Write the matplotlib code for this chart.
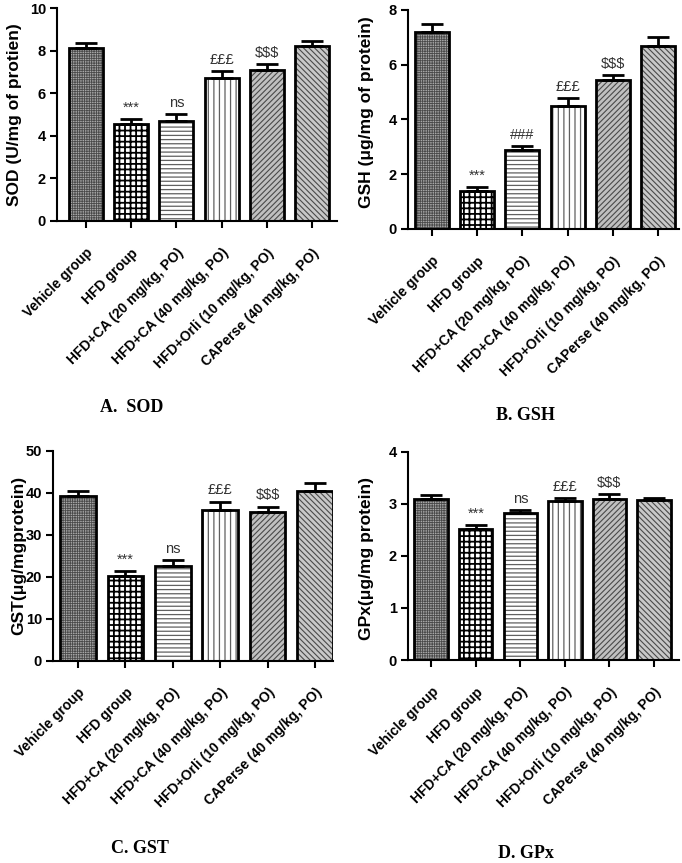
import matplotlib
matplotlib.use('Agg')
import matplotlib.pyplot as plt
import numpy as np

plt.rcParams['font.family'] = ['Liberation Sans', 'DejaVu Sans']

groups = ["Vehicle group", "HFD group", "HFD+CA (20 mg/kg, PO)",
          "HFD+CA (40 mg/kg, PO)", "HFD+Orli (10 mg/kg, PO)", "CAPerse (40 mg/kg, PO)"]

sod_mean = [8.14, 4.55, 4.71, 6.73, 7.10, 8.25]
sod_sem = [0.24, 0.24, 0.31, 0.30, 0.28, 0.21]
gsh_mean = [7.18, 1.39, 2.88, 4.49, 5.46, 6.69]
gsh_sem = [0.32, 0.15, 0.16, 0.28, 0.17, 0.33]
gst_mean = [39.2, 20.2, 22.6, 35.8, 35.3, 40.4]
gst_sem = [1.3, 1.2, 1.3, 2.1, 1.4, 1.8]
gpx_mean = [3.10, 2.52, 2.83, 3.05, 3.09, 3.07]
gpx_sem = [0.07, 0.08, 0.05, 0.06, 0.10, 0.05]

sod_marks = ["", "***", "ns", "£££", "$$$", ""]
gsh_marks = ["", "***", "###", "£££", "$$$", ""]
gst_marks = ["", "***", "ns", "£££", "$$$", ""]
gpx_marks = ["", "***", "ns", "£££", "$$$", ""]

styles = [
    dict(face='#a8a8a8', hatch='+++++++', hcolor='#4a4a4a', hlw=0.6),
    dict(face='white', hatch='+++', hcolor='black', hlw=1.3),
    dict(face='white', hatch='----', hcolor='#606060', hlw=0.9),
    dict(face='white', hatch='|||', hcolor='#606060', hlw=0.9),
    dict(face='#c0c0c0', hatch='//////', hcolor='#4a4a4a', hlw=0.8),
    dict(face='#c8c8c8', hatch='\\\\\\\\\\\\', hcolor='#4a4a4a', hlw=0.8),
]

W, H = 682, 863
fig = plt.figure(figsize=(W / 100, H / 100), dpi=100)


def px_rect(left, right, bottom, top):
    return [left / W, 1 - bottom / H, (right - left) / W, (bottom - top) / H]


def panel(rect, xlim, means, sems, marks, ylim, yticks):
    ax = fig.add_axes(rect)
    x = np.arange(len(groups))
    for i, st in enumerate(styles):
        with plt.rc_context({'hatch.linewidth': st['hlw']}):
            ax.bar(x[i], means[i], width=0.75, color=st['face'],
                   edgecolor=st['hcolor'], hatch=st['hatch'], linewidth=0, zorder=2)
        ax.bar(x[i], means[i], width=0.75, fill=False, edgecolor='black',
               linewidth=2.0, zorder=3)
    ax.errorbar(x, means, yerr=[np.zeros(len(x)), sems], fmt='none', ecolor='black',
                elinewidth=2, capsize=8, capthick=2, zorder=4)
    for xi, m, s, mk in zip(x, means, sems, marks):
        if mk:
            ax.annotate(mk, (xi, m + s), xytext=(0, 3), textcoords='offset points',
                        ha='center', va='bottom', fontsize=10.5, color='#333333')
    ax.set_xlim(*xlim)
    ax.set_ylim(*ylim)
    ax.set_yticks(yticks)
    ax.set_yticklabels([str(t) for t in yticks], fontweight='bold', fontsize=10.5)
    ax.set_xticks(x)
    ax.set_xticklabels(groups, rotation=45, ha='right', va='top',
                       rotation_mode='anchor', fontweight='bold', fontsize=10)
    for s in ('top', 'right'):
        ax.spines[s].set_visible(False)
    for s in ('left', 'bottom'):
        ax.spines[s].set_linewidth(1.5)
    ax.tick_params(direction='out', length=5, width=1.5, pad=3)
    ax.tick_params(axis='x', pad=13)
    return ax


panel(px_rect(57, 337, 221, 8.3), (-0.64, 5.55), sod_mean, sod_sem, sod_marks,
      (0, 10), [0, 2, 4, 6, 8, 10])
panel(px_rect(408, 679, 229, 10), (-0.53, 5.46), gsh_mean, gsh_sem, gsh_marks,
      (0, 8), [0, 2, 4, 6, 8])
panel(px_rect(53, 333, 660.7, 450.7), (-0.53, 5.38), gst_mean, gst_sem, gst_marks,
      (0, 50), [0, 10, 20, 30, 40, 50])
panel(px_rect(408, 679, 660, 451.7), (-0.52, 5.56), gpx_mean, gpx_sem, gpx_marks,
      (0, 4), [0, 1, 2, 3, 4])

ylabels = [
    ("SOD (U/mg of protien)", 15, 115),
    ("GSH (\u03bcg/mg of protein)", 366, 112),
    ("GST(\u03bcg/mgprotein)", 19, 555),
    ("GPx(\u03bcg/mg protein)", 366, 558),
]
for txt, xp, yp in ylabels:
    fig.text(xp / W, 1 - yp / H, txt, rotation=90, ha='center', va='center',
             fontsize=12.5, fontweight='bold')

captions = [
    ("A.  SOD", 132, 407),
    ("B. GSH", 525, 415),
    ("C. GST", 140, 848),
    ("D. GPx", 526, 853),
]
for txt, xp, yp in captions:
    fig.text(xp / W, 1 - yp / H, txt, ha='center', va='center', fontsize=13,
             fontweight='bold', family=['Liberation Serif', 'DejaVu Serif'])

fig.savefig('out.png', dpi=100)
